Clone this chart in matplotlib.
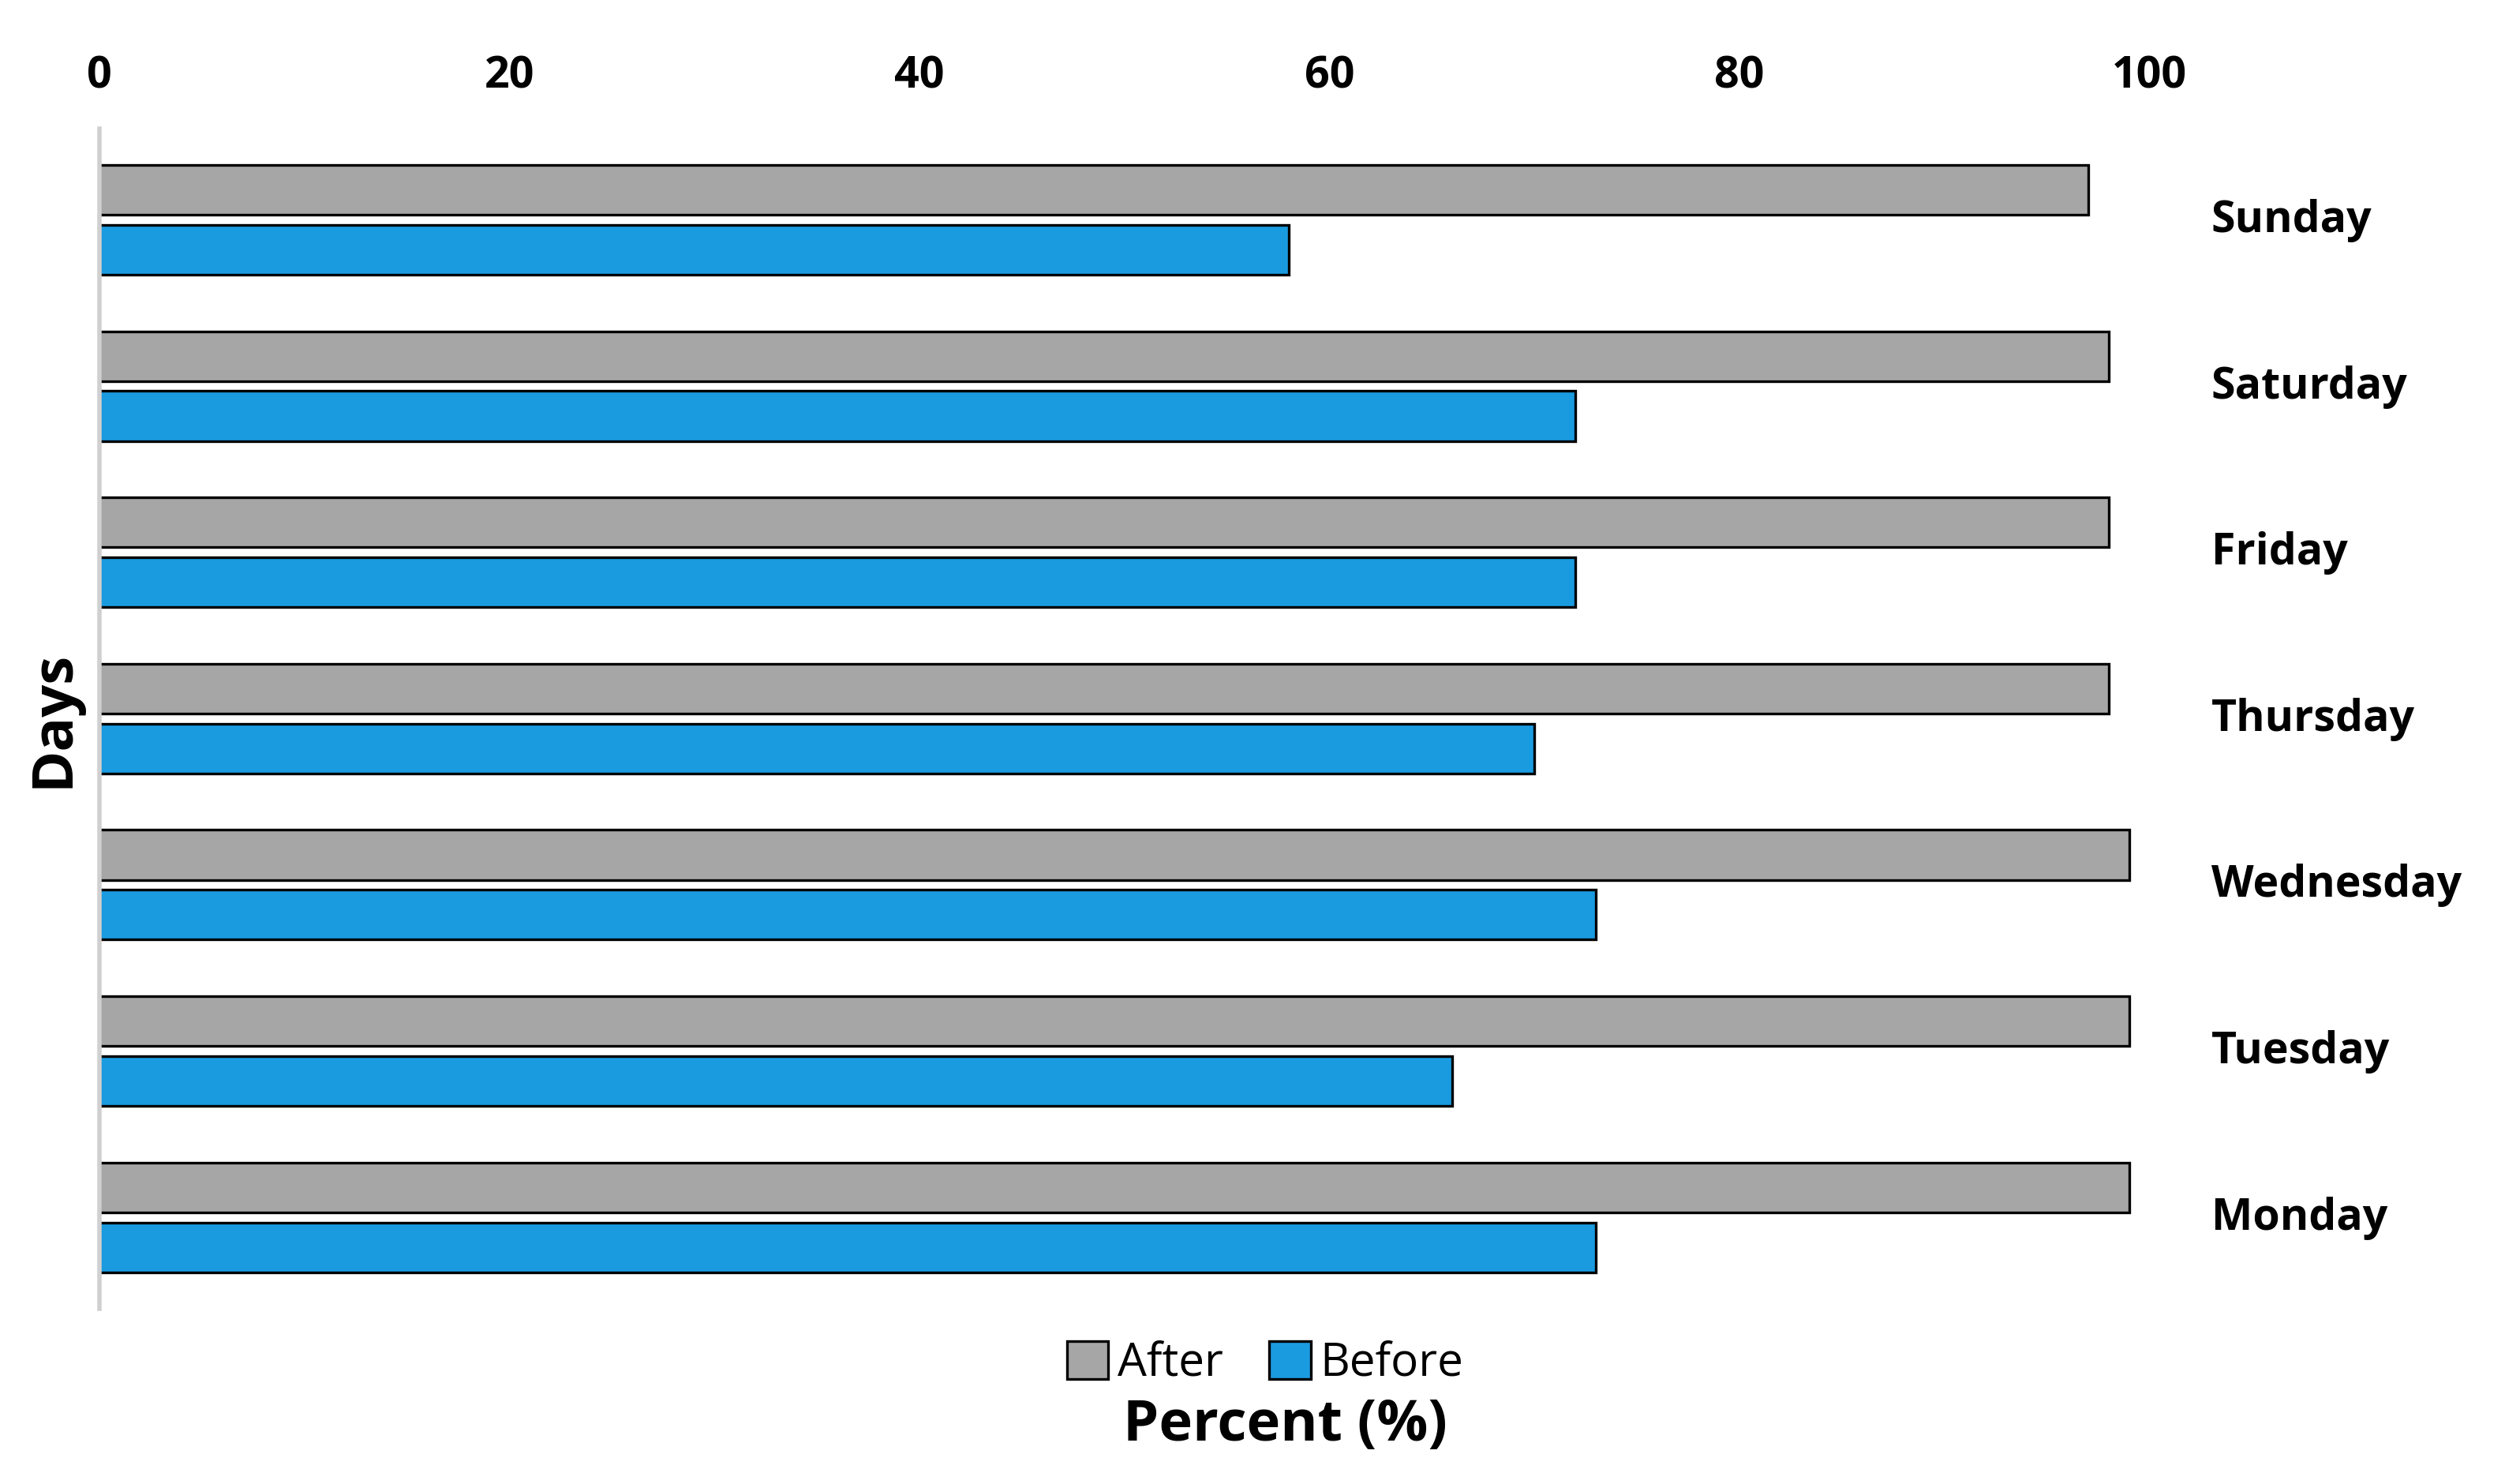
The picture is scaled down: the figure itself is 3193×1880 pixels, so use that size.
import matplotlib.pyplot as plt
import numpy as np

days = ["Monday", "Tuesday", "Wednesday", "Thursday", "Friday", "Saturday", "Sunday"]
after = [99, 99, 99, 98, 98, 98, 97]
before = [73, 66, 73, 70, 72, 72, 58]

plt.rcParams['font.family'] = ['Open Sans', 'DejaVu Sans']

fig = plt.figure(figsize=(15.965, 9.405), dpi=200)
ax = fig.add_axes([0.0395, 0.118, 0.8135, 0.795])

y = np.arange(len(days))
h = 0.3
ax.barh(y + 0.18, after, height=h, color='#a6a6a6', edgecolor='black', linewidth=1.2, label='After')
ax.barh(y - 0.18, before, height=h, color='#1a9be0', edgecolor='black', linewidth=1.2, label='Before')

ax.set_xlim(0, 100)
ax.set_ylim(-0.55, 6.55)
ax.xaxis.tick_top()
ax.set_xticks(range(0, 101, 20))
ax.tick_params(axis='x', length=0, labelsize=20, pad=14)
for t in ax.get_xticklabels():
    t.set_fontweight('bold')

ax.set_yticks([])
for i, d in enumerate(days):
    ax.text(103, i, d, fontsize=20, fontweight='bold', va='center', ha='left')

for s in ['top', 'right', 'bottom']:
    ax.spines[s].set_visible(False)
ax.spines['left'].set_color('#d0d0d0')
ax.spines['left'].set_linewidth(2)

ax.set_ylabel("Days", fontsize=26, fontweight='bold', labelpad=8)
fig.text(0.51, 0.04, "Percent (%)", fontsize=26, fontweight='bold', ha='center', va='center')
fig.legend(loc='center', bbox_to_anchor=(0.502, 0.081), ncol=2, frameon=False,
           fontsize=21, handlelength=0.9, handleheight=0.9, handletextpad=0.2, columnspacing=1.0)

fig.savefig("out.png", dpi=200)
